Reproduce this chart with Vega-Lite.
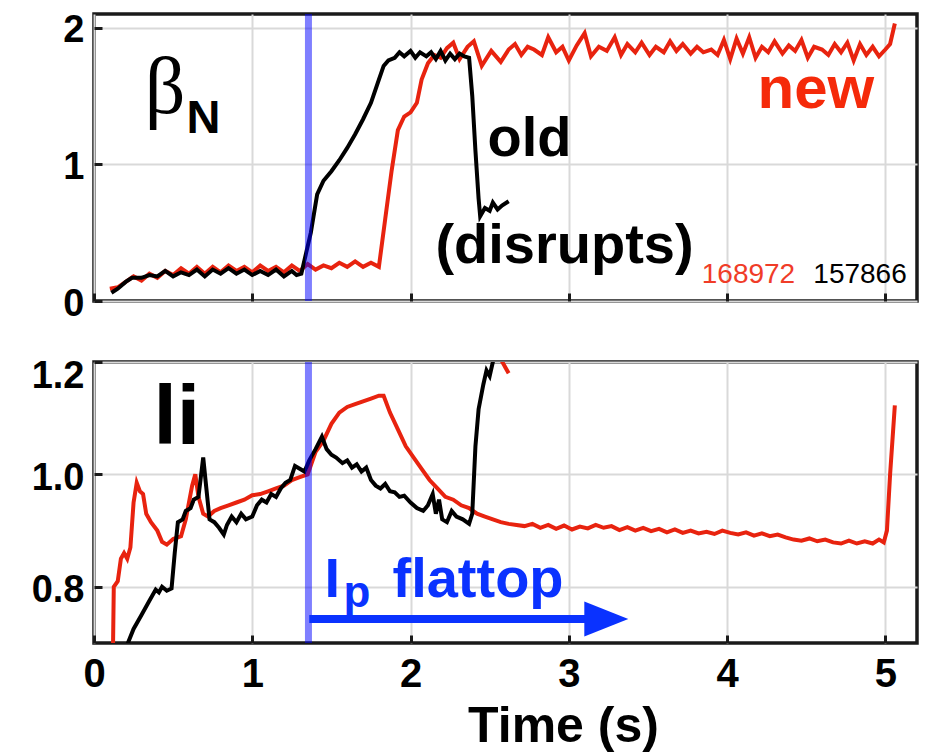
{
  "$schema": "https://vega.github.io/schema/vega-lite/v6.json",
  "padding": {"left": 12, "top": 8, "right": 5, "bottom": 0},
  "spacing": 61,
  "bounds": "flush",
  "config": {
    "view": {"stroke": "#1a1a1a", "strokeWidth": 3.5},
    "axis": {"labelFont": "Liberation Sans", "labelFontWeight": "bold", "labelColor": "#000", "labelOverlap": false, "labelBound": false, "gridColor": "#d9d9d9", "gridWidth": 2, "domain": false, "ticks": true, "tickSize": -8, "tickWidth": 3, "tickColor": "#1a1a1a", "titleFont": "Liberation Sans", "titleFontWeight": "bold", "titleColor": "#000"}
  },
  "datasets": {
    "beta": [
      {"shot":"168972","t":0.10,"v":0.09},{"shot":"168972","t":0.15,"v":0.10},{"shot":"168972","t":0.20,"v":0.14},{"shot":"168972","t":0.25,"v":0.18},{"shot":"168972","t":0.30,"v":0.15},{"shot":"168972","t":0.35,"v":0.20},{"shot":"168972","t":0.40,"v":0.17},{"shot":"168972","t":0.45,"v":0.22},{"shot":"168972","t":0.50,"v":0.19},{"shot":"168972","t":0.55,"v":0.24},{"shot":"168972","t":0.60,"v":0.20},{"shot":"168972","t":0.65,"v":0.25},{"shot":"168972","t":0.70,"v":0.20},{"shot":"168972","t":0.75,"v":0.25},{"shot":"168972","t":0.80,"v":0.21},{"shot":"168972","t":0.85,"v":0.26},{"shot":"168972","t":0.90,"v":0.22},{"shot":"168972","t":0.95,"v":0.25},{"shot":"168972","t":1.00,"v":0.21},{"shot":"168972","t":1.05,"v":0.26},{"shot":"168972","t":1.10,"v":0.22},{"shot":"168972","t":1.15,"v":0.25},{"shot":"168972","t":1.20,"v":0.21},{"shot":"168972","t":1.25,"v":0.26},{"shot":"168972","t":1.30,"v":0.22},{"shot":"168972","t":1.35,"v":0.27},{"shot":"168972","t":1.40,"v":0.23},{"shot":"168972","t":1.45,"v":0.26},{"shot":"168972","t":1.50,"v":0.24},{"shot":"168972","t":1.55,"v":0.28},{"shot":"168972","t":1.60,"v":0.25},{"shot":"168972","t":1.65,"v":0.29},{"shot":"168972","t":1.70,"v":0.25},{"shot":"168972","t":1.75,"v":0.28},{"shot":"168972","t":1.80,"v":0.25},{"shot":"168972","t":1.84,"v":0.60},{"shot":"168972","t":1.88,"v":0.95},{"shot":"168972","t":1.92,"v":1.25},{"shot":"168972","t":1.96,"v":1.35},{"shot":"168972","t":2.00,"v":1.38},{"shot":"168972","t":2.04,"v":1.45},{"shot":"168972","t":2.07,"v":1.62},{"shot":"168972","t":2.11,"v":1.74},{"shot":"168972","t":2.15,"v":1.80},{"shot":"168972","t":2.19,"v":1.78},{"shot":"168972","t":2.23,"v":1.85},{"shot":"168972","t":2.27,"v":1.89},{"shot":"168972","t":2.31,"v":1.77},{"shot":"168972","t":2.36,"v":1.86},{"shot":"168972","t":2.40,"v":1.90},{"shot":"168972","t":2.45,"v":1.72},{"shot":"168972","t":2.51,"v":1.83},{"shot":"168972","t":2.57,"v":1.75},{"shot":"168972","t":2.62,"v":1.84},{"shot":"168972","t":2.66,"v":1.88},{"shot":"168972","t":2.70,"v":1.80},{"shot":"168972","t":2.74,"v":1.86},{"shot":"168972","t":2.78,"v":1.84},{"shot":"168972","t":2.83,"v":1.80},{"shot":"168972","t":2.87,"v":1.93},{"shot":"168972","t":2.92,"v":1.82},{"shot":"168972","t":2.96,"v":1.86},{"shot":"168972","t":3.00,"v":1.76},{"shot":"168972","t":3.05,"v":1.87},{"shot":"168972","t":3.10,"v":1.96},{"shot":"168972","t":3.14,"v":1.79},{"shot":"168972","t":3.19,"v":1.86},{"shot":"168972","t":3.24,"v":1.83},{"shot":"168972","t":3.29,"v":1.93},{"shot":"168972","t":3.33,"v":1.80},{"shot":"168972","t":3.37,"v":1.88},{"shot":"168972","t":3.42,"v":1.82},{"shot":"168972","t":3.46,"v":1.89},{"shot":"168972","t":3.51,"v":1.80},{"shot":"168972","t":3.55,"v":1.86},{"shot":"168972","t":3.60,"v":1.82},{"shot":"168972","t":3.64,"v":1.90},{"shot":"168972","t":3.68,"v":1.83},{"shot":"168972","t":3.72,"v":1.88},{"shot":"168972","t":3.77,"v":1.81},{"shot":"168972","t":3.81,"v":1.86},{"shot":"168972","t":3.85,"v":1.82},{"shot":"168972","t":3.90,"v":1.84},{"shot":"168972","t":3.94,"v":1.80},{"shot":"168972","t":3.98,"v":1.91},{"shot":"168972","t":4.02,"v":1.77},{"shot":"168972","t":4.06,"v":1.92},{"shot":"168972","t":4.10,"v":1.81},{"shot":"168972","t":4.14,"v":1.93},{"shot":"168972","t":4.18,"v":1.78},{"shot":"168972","t":4.22,"v":1.86},{"shot":"168972","t":4.26,"v":1.82},{"shot":"168972","t":4.30,"v":1.90},{"shot":"168972","t":4.35,"v":1.81},{"shot":"168972","t":4.39,"v":1.87},{"shot":"168972","t":4.43,"v":1.83},{"shot":"168972","t":4.47,"v":1.91},{"shot":"168972","t":4.51,"v":1.78},{"shot":"168972","t":4.55,"v":1.86},{"shot":"168972","t":4.60,"v":1.84},{"shot":"168972","t":4.64,"v":1.80},{"shot":"168972","t":4.68,"v":1.88},{"shot":"168972","t":4.72,"v":1.82},{"shot":"168972","t":4.76,"v":1.89},{"shot":"168972","t":4.80,"v":1.76},{"shot":"168972","t":4.84,"v":1.88},{"shot":"168972","t":4.88,"v":1.80},{"shot":"168972","t":4.92,"v":1.86},{"shot":"168972","t":4.96,"v":1.79},{"shot":"168972","t":5.00,"v":1.84},{"shot":"168972","t":5.03,"v":1.88},{"shot":"168972","t":5.06,"v":2.03},
      {"shot":"157866","t":0.11,"v":0.06},{"shot":"157866","t":0.15,"v":0.09},{"shot":"157866","t":0.20,"v":0.14},{"shot":"157866","t":0.24,"v":0.17},{"shot":"157866","t":0.30,"v":0.17},{"shot":"157866","t":0.35,"v":0.19},{"shot":"157866","t":0.40,"v":0.18},{"shot":"157866","t":0.45,"v":0.22},{"shot":"157866","t":0.50,"v":0.18},{"shot":"157866","t":0.55,"v":0.21},{"shot":"157866","t":0.60,"v":0.19},{"shot":"157866","t":0.65,"v":0.23},{"shot":"157866","t":0.70,"v":0.18},{"shot":"157866","t":0.75,"v":0.23},{"shot":"157866","t":0.80,"v":0.20},{"shot":"157866","t":0.85,"v":0.24},{"shot":"157866","t":0.90,"v":0.20},{"shot":"157866","t":0.95,"v":0.23},{"shot":"157866","t":1.00,"v":0.19},{"shot":"157866","t":1.05,"v":0.22},{"shot":"157866","t":1.10,"v":0.19},{"shot":"157866","t":1.15,"v":0.23},{"shot":"157866","t":1.20,"v":0.18},{"shot":"157866","t":1.25,"v":0.22},{"shot":"157866","t":1.28,"v":0.19},{"shot":"157866","t":1.31,"v":0.20},{"shot":"157866","t":1.34,"v":0.35},{"shot":"157866","t":1.37,"v":0.50},{"shot":"157866","t":1.41,"v":0.78},{"shot":"157866","t":1.45,"v":0.88},{"shot":"157866","t":1.50,"v":0.95},{"shot":"157866","t":1.55,"v":1.03},{"shot":"157866","t":1.60,"v":1.12},{"shot":"157866","t":1.65,"v":1.22},{"shot":"157866","t":1.70,"v":1.33},{"shot":"157866","t":1.75,"v":1.45},{"shot":"157866","t":1.80,"v":1.62},{"shot":"157866","t":1.83,"v":1.72},{"shot":"157866","t":1.86,"v":1.76},{"shot":"157866","t":1.90,"v":1.78},{"shot":"157866","t":1.93,"v":1.82},{"shot":"157866","t":1.96,"v":1.79},{"shot":"157866","t":2.00,"v":1.83},{"shot":"157866","t":2.03,"v":1.78},{"shot":"157866","t":2.06,"v":1.82},{"shot":"157866","t":2.10,"v":1.79},{"shot":"157866","t":2.13,"v":1.82},{"shot":"157866","t":2.16,"v":1.77},{"shot":"157866","t":2.19,"v":1.83},{"shot":"157866","t":2.22,"v":1.76},{"shot":"157866","t":2.25,"v":1.81},{"shot":"157866","t":2.28,"v":1.77},{"shot":"157866","t":2.31,"v":1.81},{"shot":"157866","t":2.34,"v":1.79},{"shot":"157866","t":2.37,"v":1.78},{"shot":"157866","t":2.39,"v":1.50},{"shot":"157866","t":2.41,"v":1.10},{"shot":"157866","t":2.43,"v":0.75},{"shot":"157866","t":2.44,"v":0.62},{"shot":"157866","t":2.47,"v":0.68},{"shot":"157866","t":2.50,"v":0.66},{"shot":"157866","t":2.52,"v":0.72},{"shot":"157866","t":2.55,"v":0.67},{"shot":"157866","t":2.58,"v":0.70},{"shot":"157866","t":2.62,"v":0.73}
    ],
    "li": [
      {"shot":"168972","seg":"a","t":0.12,"v":0.69},{"shot":"168972","seg":"a","t":0.125,"v":0.80},{"shot":"168972","seg":"a","t":0.15,"v":0.81},{"shot":"168972","seg":"a","t":0.17,"v":0.85},{"shot":"168972","seg":"a","t":0.19,"v":0.86},{"shot":"168972","seg":"a","t":0.21,"v":0.85},{"shot":"168972","seg":"a","t":0.23,"v":0.87},{"shot":"168972","seg":"a","t":0.25,"v":0.95},{"shot":"168972","seg":"a","t":0.27,"v":0.985},{"shot":"168972","seg":"a","t":0.29,"v":0.97},{"shot":"168972","seg":"a","t":0.31,"v":0.965},{"shot":"168972","seg":"a","t":0.33,"v":0.93},{"shot":"168972","seg":"a","t":0.36,"v":0.915},{"shot":"168972","seg":"a","t":0.40,"v":0.90},{"shot":"168972","seg":"a","t":0.43,"v":0.88},{"shot":"168972","seg":"a","t":0.46,"v":0.875},{"shot":"168972","seg":"a","t":0.50,"v":0.885},{"shot":"168972","seg":"a","t":0.55,"v":0.89},{"shot":"168972","seg":"a","t":0.58,"v":0.92},{"shot":"168972","seg":"a","t":0.62,"v":0.98},{"shot":"168972","seg":"a","t":0.64,"v":1.0},{"shot":"168972","seg":"a","t":0.66,"v":0.96},{"shot":"168972","seg":"a","t":0.69,"v":0.93},{"shot":"168972","seg":"a","t":0.72,"v":0.925},{"shot":"168972","seg":"a","t":0.76,"v":0.935},{"shot":"168972","seg":"a","t":0.80,"v":0.94},{"shot":"168972","seg":"a","t":0.85,"v":0.945},{"shot":"168972","seg":"a","t":0.90,"v":0.95},{"shot":"168972","seg":"a","t":0.95,"v":0.955},{"shot":"168972","seg":"a","t":1.00,"v":0.963},{"shot":"168972","seg":"a","t":1.05,"v":0.965},{"shot":"168972","seg":"a","t":1.10,"v":0.97},{"shot":"168972","seg":"a","t":1.15,"v":0.975},{"shot":"168972","seg":"a","t":1.20,"v":0.98},{"shot":"168972","seg":"a","t":1.25,"v":0.99},{"shot":"168972","seg":"a","t":1.30,"v":0.995},{"shot":"168972","seg":"a","t":1.35,"v":1.0},{"shot":"168972","seg":"a","t":1.40,"v":1.04},{"shot":"168972","seg":"a","t":1.45,"v":1.06},{"shot":"168972","seg":"a","t":1.50,"v":1.09},{"shot":"168972","seg":"a","t":1.55,"v":1.11},{"shot":"168972","seg":"a","t":1.60,"v":1.12},{"shot":"168972","seg":"a","t":1.65,"v":1.125},{"shot":"168972","seg":"a","t":1.70,"v":1.13},{"shot":"168972","seg":"a","t":1.75,"v":1.135},{"shot":"168972","seg":"a","t":1.80,"v":1.14},{"shot":"168972","seg":"a","t":1.83,"v":1.14},{"shot":"168972","seg":"a","t":1.87,"v":1.11},{"shot":"168972","seg":"a","t":1.92,"v":1.08},{"shot":"168972","seg":"a","t":1.97,"v":1.05},{"shot":"168972","seg":"a","t":2.02,"v":1.03},{"shot":"168972","seg":"a","t":2.07,"v":1.01},{"shot":"168972","seg":"a","t":2.12,"v":0.99},{"shot":"168972","seg":"a","t":2.17,"v":0.975},{"shot":"168972","seg":"a","t":2.22,"v":0.96},{"shot":"168972","seg":"a","t":2.27,"v":0.955},{"shot":"168972","seg":"a","t":2.32,"v":0.945},{"shot":"168972","seg":"a","t":2.37,"v":0.94},{"shot":"168972","seg":"a","t":2.42,"v":0.93},{"shot":"168972","seg":"a","t":2.47,"v":0.925},{"shot":"168972","seg":"a","t":2.52,"v":0.92},{"shot":"168972","seg":"a","t":2.57,"v":0.915},{"shot":"168972","seg":"a","t":2.62,"v":0.912},{"shot":"168972","seg":"a","t":2.67,"v":0.91},{"shot":"168972","seg":"a","t":2.72,"v":0.908},{"shot":"168972","seg":"a","t":2.77,"v":0.912},{"shot":"168972","seg":"a","t":2.82,"v":0.905},{"shot":"168972","seg":"a","t":2.87,"v":0.91},{"shot":"168972","seg":"a","t":2.92,"v":0.903},{"shot":"168972","seg":"a","t":2.97,"v":0.909},{"shot":"168972","seg":"a","t":3.02,"v":0.902},{"shot":"168972","seg":"a","t":3.07,"v":0.907},{"shot":"168972","seg":"a","t":3.12,"v":0.904},{"shot":"168972","seg":"a","t":3.17,"v":0.91},{"shot":"168972","seg":"a","t":3.22,"v":0.905},{"shot":"168972","seg":"a","t":3.27,"v":0.908},{"shot":"168972","seg":"a","t":3.32,"v":0.901},{"shot":"168972","seg":"a","t":3.37,"v":0.906},{"shot":"168972","seg":"a","t":3.42,"v":0.90},{"shot":"168972","seg":"a","t":3.47,"v":0.905},{"shot":"168972","seg":"a","t":3.52,"v":0.899},{"shot":"168972","seg":"a","t":3.57,"v":0.903},{"shot":"168972","seg":"a","t":3.62,"v":0.897},{"shot":"168972","seg":"a","t":3.67,"v":0.902},{"shot":"168972","seg":"a","t":3.72,"v":0.896},{"shot":"168972","seg":"a","t":3.77,"v":0.90},{"shot":"168972","seg":"a","t":3.82,"v":0.895},{"shot":"168972","seg":"a","t":3.87,"v":0.898},{"shot":"168972","seg":"a","t":3.92,"v":0.894},{"shot":"168972","seg":"a","t":3.97,"v":0.90},{"shot":"168972","seg":"a","t":4.02,"v":0.896},{"shot":"168972","seg":"a","t":4.07,"v":0.893},{"shot":"168972","seg":"a","t":4.12,"v":0.897},{"shot":"168972","seg":"a","t":4.17,"v":0.891},{"shot":"168972","seg":"a","t":4.22,"v":0.895},{"shot":"168972","seg":"a","t":4.27,"v":0.89},{"shot":"168972","seg":"a","t":4.32,"v":0.893},{"shot":"168972","seg":"a","t":4.37,"v":0.888},{"shot":"168972","seg":"a","t":4.42,"v":0.884},{"shot":"168972","seg":"a","t":4.47,"v":0.882},{"shot":"168972","seg":"a","t":4.52,"v":0.886},{"shot":"168972","seg":"a","t":4.57,"v":0.881},{"shot":"168972","seg":"a","t":4.62,"v":0.884},{"shot":"168972","seg":"a","t":4.67,"v":0.879},{"shot":"168972","seg":"a","t":4.72,"v":0.877},{"shot":"168972","seg":"a","t":4.77,"v":0.882},{"shot":"168972","seg":"a","t":4.82,"v":0.877},{"shot":"168972","seg":"a","t":4.87,"v":0.881},{"shot":"168972","seg":"a","t":4.92,"v":0.877},{"shot":"168972","seg":"a","t":4.96,"v":0.884},{"shot":"168972","seg":"a","t":4.99,"v":0.879},{"shot":"168972","seg":"a","t":5.01,"v":0.90},{"shot":"168972","seg":"a","t":5.03,"v":1.0},{"shot":"168972","seg":"a","t":5.06,"v":1.123},
      {"shot":"168972","seg":"b","t":2.55,"v":1.215},{"shot":"168972","seg":"b","t":2.62,"v":1.18},
      {"shot":"157866","seg":"a","t":0.20,"v":0.69},{"shot":"157866","seg":"a","t":0.25,"v":0.725},{"shot":"157866","seg":"a","t":0.30,"v":0.75},{"shot":"157866","seg":"a","t":0.35,"v":0.775},{"shot":"157866","seg":"a","t":0.39,"v":0.795},{"shot":"157866","seg":"a","t":0.41,"v":0.79},{"shot":"157866","seg":"a","t":0.43,"v":0.80},{"shot":"157866","seg":"a","t":0.46,"v":0.793},{"shot":"157866","seg":"a","t":0.49,"v":0.797},{"shot":"157866","seg":"a","t":0.51,"v":0.86},{"shot":"157866","seg":"a","t":0.53,"v":0.915},{"shot":"157866","seg":"a","t":0.56,"v":0.92},{"shot":"157866","seg":"a","t":0.58,"v":0.935},{"shot":"157866","seg":"a","t":0.61,"v":0.94},{"shot":"157866","seg":"a","t":0.63,"v":0.955},{"shot":"157866","seg":"a","t":0.66,"v":0.96},{"shot":"157866","seg":"a","t":0.69,"v":1.03},{"shot":"157866","seg":"a","t":0.71,"v":0.975},{"shot":"157866","seg":"a","t":0.73,"v":0.92},{"shot":"157866","seg":"a","t":0.76,"v":0.915},{"shot":"157866","seg":"a","t":0.79,"v":0.905},{"shot":"157866","seg":"a","t":0.82,"v":0.893},{"shot":"157866","seg":"a","t":0.84,"v":0.91},{"shot":"157866","seg":"a","t":0.87,"v":0.925},{"shot":"157866","seg":"a","t":0.90,"v":0.915},{"shot":"157866","seg":"a","t":0.93,"v":0.93},{"shot":"157866","seg":"a","t":0.96,"v":0.92},{"shot":"157866","seg":"a","t":1.00,"v":0.925},{"shot":"157866","seg":"a","t":1.03,"v":0.945},{"shot":"157866","seg":"a","t":1.06,"v":0.955},{"shot":"157866","seg":"a","t":1.09,"v":0.95},{"shot":"157866","seg":"a","t":1.12,"v":0.965},{"shot":"157866","seg":"a","t":1.15,"v":0.96},{"shot":"157866","seg":"a","t":1.18,"v":0.975},{"shot":"157866","seg":"a","t":1.21,"v":0.985},{"shot":"157866","seg":"a","t":1.24,"v":0.99},{"shot":"157866","seg":"a","t":1.27,"v":1.015},{"shot":"157866","seg":"a","t":1.30,"v":1.01},{"shot":"157866","seg":"a","t":1.33,"v":1.005},{"shot":"157866","seg":"a","t":1.36,"v":1.025},{"shot":"157866","seg":"a","t":1.40,"v":1.045},{"shot":"157866","seg":"a","t":1.44,"v":1.067},{"shot":"157866","seg":"a","t":1.47,"v":1.045},{"shot":"157866","seg":"a","t":1.50,"v":1.035},{"shot":"157866","seg":"a","t":1.53,"v":1.03},{"shot":"157866","seg":"a","t":1.57,"v":1.02},{"shot":"157866","seg":"a","t":1.60,"v":1.025},{"shot":"157866","seg":"a","t":1.63,"v":1.012},{"shot":"157866","seg":"a","t":1.66,"v":1.018},{"shot":"157866","seg":"a","t":1.69,"v":1.005},{"shot":"157866","seg":"a","t":1.72,"v":1.012},{"shot":"157866","seg":"a","t":1.75,"v":0.99},{"shot":"157866","seg":"a","t":1.78,"v":0.98},{"shot":"157866","seg":"a","t":1.81,"v":0.975},{"shot":"157866","seg":"a","t":1.84,"v":0.983},{"shot":"157866","seg":"a","t":1.87,"v":0.97},{"shot":"157866","seg":"a","t":1.90,"v":0.968},{"shot":"157866","seg":"a","t":1.93,"v":0.96},{"shot":"157866","seg":"a","t":1.96,"v":0.962},{"shot":"157866","seg":"a","t":2.00,"v":0.95},{"shot":"157866","seg":"a","t":2.04,"v":0.94},{"shot":"157866","seg":"a","t":2.08,"v":0.935},{"shot":"157866","seg":"a","t":2.11,"v":0.945},{"shot":"157866","seg":"a","t":2.14,"v":0.965},{"shot":"157866","seg":"a","t":2.16,"v":0.93},{"shot":"157866","seg":"a","t":2.18,"v":0.955},{"shot":"157866","seg":"a","t":2.20,"v":0.92},{"shot":"157866","seg":"a","t":2.23,"v":0.915},{"shot":"157866","seg":"a","t":2.26,"v":0.935},{"shot":"157866","seg":"a","t":2.29,"v":0.925},{"shot":"157866","seg":"a","t":2.33,"v":0.92},{"shot":"157866","seg":"a","t":2.37,"v":0.912},{"shot":"157866","seg":"a","t":2.39,"v":0.93},{"shot":"157866","seg":"a","t":2.41,"v":1.05},{"shot":"157866","seg":"a","t":2.43,"v":1.116},{"shot":"157866","seg":"a","t":2.46,"v":1.16},{"shot":"157866","seg":"a","t":2.48,"v":1.185},{"shot":"157866","seg":"a","t":2.50,"v":1.175},{"shot":"157866","seg":"a","t":2.52,"v":1.20},{"shot":"157866","seg":"a","t":2.55,"v":1.23}
    ]
  },
  "vconcat": [
    {
      "width": 823,
      "height": 287,
      "encoding": {
        "x": {"field": "t", "type": "quantitative", "scale": {"domain": [0, 5.2], "nice": false, "zero": false}, "axis": {"values": [0, 1, 2, 3, 4, 5], "labels": false, "title": null, "minExtent": 0, "maxExtent": 0}},
        "y": {"field": "v", "type": "quantitative", "scale": {"domain": [0, 2.1], "nice": false}, "axis": {"values": [0, 1, 2], "labelExpr": "datum.value == 2 ? '2' : (datum.value == 1 ? '1' : '0')", "labelOverlap": false, "labelFlush": false, "labelFontSize": 38, "labelPadding": 18, "labelOffset": 3, "title": null, "minExtent": 80, "maxExtent": 80}}
      },
      "layer": [
        {"data": {"name": "beta"}, "transform": [{"filter": "datum.shot == '168972'"}], "mark": {"type": "line", "color": "#e8230f", "strokeWidth": 4, "clip": true}},
        {"data": {"name": "beta"}, "transform": [{"filter": "datum.shot == '157866'"}], "mark": {"type": "line", "color": "#000000", "strokeWidth": 4, "clip": true}},
        {"data": {"values": [{"t": 1.355}]}, "mark": {"type": "rule", "color": "#0000ff", "opacity": 0.5, "strokeWidth": 7}, "encoding": {"x": {"field": "t", "type": "quantitative"}, "y": null}},
        {"data": {"values": [{"t": 0.32, "v": 1.377, "label": "β"}]}, "mark": {"type": "text", "font": "Liberation Serif", "fontSize": 80, "align": "left", "baseline": "alphabetic", "color": "#000"}, "encoding": {"text": {"field": "label"}}},
        {"data": {"values": [{"t": 0.585, "v": 1.231, "label": "N"}]}, "mark": {"type": "text", "font": "Liberation Sans", "fontWeight": "bold", "fontSize": 47, "align": "left", "baseline": "alphabetic", "color": "#000"}, "encoding": {"text": {"field": "label"}}},
        {"data": {"values": [{"t": 4.93, "v": 1.414, "label": "new"}]}, "mark": {"type": "text", "font": "Liberation Sans", "fontWeight": "bold", "fontSize": 60, "align": "right", "baseline": "alphabetic", "color": "#f52a0a"}, "encoding": {"text": {"field": "label"}}},
        {"data": {"values": [{"t": 2.486, "v": 1.062, "label": "old"}, {"t": 2.157, "v": 0.278, "label": "(disrupts)"}]}, "mark": {"type": "text", "font": "Liberation Sans", "fontWeight": "bold", "fontSize": 56, "align": "left", "baseline": "alphabetic", "color": "#000"}, "encoding": {"text": {"field": "label"}}},
        {"data": {"values": [{"t": 3.84, "v": 0.132, "label": "168972"}]}, "mark": {"type": "text", "font": "Liberation Sans", "fontSize": 28, "align": "left", "baseline": "alphabetic", "color": "#f03c28"}, "encoding": {"text": {"field": "label"}}},
        {"data": {"values": [{"t": 4.545, "v": 0.132, "label": "157866"}]}, "mark": {"type": "text", "font": "Liberation Sans", "fontSize": 28, "align": "left", "baseline": "alphabetic", "color": "#000"}, "encoding": {"text": {"field": "label"}}}
      ]
    },
    {
      "width": 823,
      "height": 281,
      "encoding": {
        "x": {"field": "t", "type": "quantitative", "scale": {"domain": [0, 5.2], "nice": false, "zero": false}, "axis": {"values": [0, 1, 2, 3, 4, 5], "labelFontSize": 40, "labelPadding": 19, "labelFlush": false, "title": "Time (s)", "titleFontSize": 50, "titleX": 469, "titleY": 98, "titleAlign": "center", "titleBaseline": "alphabetic"}},
        "y": {"field": "v", "type": "quantitative", "scale": {"domain": [0.7, 1.2], "nice": false, "zero": false}, "axis": {"values": [0.8, 1.0, 1.2], "format": ".1f", "labelOverlap": false, "labelFontSize": 38, "labelPadding": 18, "labelOffset": {"condition": {"test": "datum.value > 1.1", "value": 14}, "value": 4}, "title": null, "minExtent": 80, "maxExtent": 80}}
      },
      "layer": [
        {"data": {"name": "li"}, "transform": [{"filter": "datum.shot == '168972'"}], "mark": {"type": "line", "color": "#e8230f", "strokeWidth": 4, "clip": true}, "encoding": {"detail": {"field": "seg"}}},
        {"data": {"name": "li"}, "transform": [{"filter": "datum.shot == '157866'"}], "mark": {"type": "line", "color": "#000000", "strokeWidth": 4, "clip": true}},
        {"data": {"values": [{"t": 1.355}]}, "mark": {"type": "rule", "color": "#0000ff", "opacity": 0.5, "strokeWidth": 7}, "encoding": {"x": {"field": "t", "type": "quantitative"}, "y": null}},
        {"data": {"values": [{"t": 1.36, "t2": 3.13, "v": 0.7427}]}, "mark": {"type": "rule", "color": "#0a32ff", "strokeWidth": 8}, "encoding": {"x2": {"field": "t2"}}},
        {"data": {"values": [{"t": 3.237, "v": 0.7427}]}, "mark": {"type": "point", "shape": "M-1,-0.8L1,0L-1,0.8Z", "size": 1936, "filled": true, "opacity": 1, "color": "#0a32ff"}},
        {"data": {"values": [{"t": 1.456, "v": 0.782, "label": "I"}, {"t": 1.886, "v": 0.782, "label": "flattop"}]}, "mark": {"type": "text", "font": "Liberation Sans", "fontWeight": "bold", "fontSize": 56, "align": "left", "baseline": "alphabetic", "color": "#0a32ff"}, "encoding": {"text": {"field": "label"}}},
        {"data": {"values": [{"t": 1.576, "v": 0.764, "label": "p"}]}, "mark": {"type": "text", "font": "Liberation Sans", "fontWeight": "bold", "fontSize": 44, "align": "left", "baseline": "alphabetic", "color": "#0a32ff"}, "encoding": {"text": {"field": "label"}}},
        {"data": {"values": [{"t": 0.376, "v": 1.054, "label": "li"}]}, "mark": {"type": "text", "font": "Liberation Sans", "fontWeight": "bold", "fontSize": 84, "align": "left", "baseline": "alphabetic", "color": "#000"}, "encoding": {"text": {"field": "label"}}}
      ]
    }
  ]
}
